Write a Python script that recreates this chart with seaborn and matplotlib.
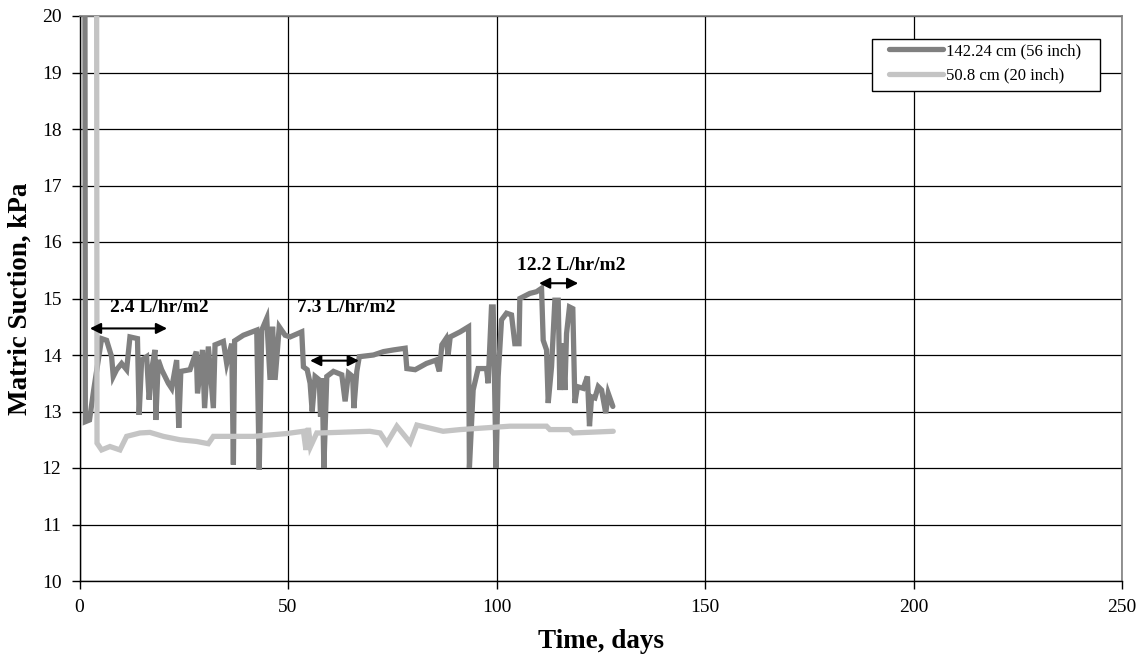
import matplotlib
matplotlib.use("Agg")
import matplotlib.pyplot as plt
from matplotlib.patches import Rectangle
import seaborn as sns
import pandas as pd
import numpy as np

# ---- data ----
series_labels = ["142.24 cm (56 inch)", "50.8 cm (20 inch)"]

deep_days = [1.3, 1.4, 2.4, 3.4, 5.3, 6.5, 7.7, 8.1, 8.9, 10.1, 11.3, 12.1, 13.9, 14.3, 14.9,
             16.1, 16.7, 17.3, 18.1, 18.3, 18.9, 19.7, 21.3, 22.1, 23.3, 23.8, 24.3, 26.5,
             28.0, 28.3, 29.5, 30.0, 30.9, 32.1, 32.5, 34.5, 35.3, 36.5, 36.9, 37.2, 39.3,
             42.5, 43.1, 43.7, 44.9, 45.7, 46.3, 46.9, 47.9, 49.3, 50.5, 53.3, 53.7, 54.6,
             55.3, 55.8, 56.5, 57.5, 57.8, 58.2, 58.6, 59.3, 60.9, 62.9, 63.7, 64.5, 65.5,
             65.8, 66.5, 67.1, 70.5, 72.9, 75.3, 78.1, 78.5, 80.5, 83.2, 85.5, 86.3, 86.9,
             87.9, 88.4, 88.9, 91.3, 93.3, 93.5, 94.4, 95.6, 97.6, 98.0, 98.8, 99.2, 99.9,
             100.4, 101.2, 102.4, 103.6, 104.4, 105.4, 105.6, 108.0, 109.6, 110.8, 111.2,
             112.0, 112.4, 113.2, 114.0, 114.8, 115.2, 115.9, 116.4, 116.8, 117.5, 118.3,
             118.8, 119.4, 120.8, 121.8, 122.3, 122.8, 123.6, 124.4, 125.2, 126.2, 126.8,
             127.9]
deep_kpa = [21.0, 12.82, 12.85, 13.38, 14.29, 14.26, 13.97, 13.62, 13.74, 13.85, 13.74, 14.32,
            14.29, 12.94, 13.91, 13.97, 13.21, 13.74, 14.09, 12.85, 13.91, 13.74, 13.50, 13.41,
            13.91, 12.71, 13.71, 13.74, 14.06, 13.32, 14.09, 13.06, 14.15, 13.06, 14.18, 14.24,
            13.85, 14.20, 12.06, 14.25, 14.35, 14.44, 11.97, 14.44, 14.65, 13.56, 14.50, 13.56,
            14.50, 14.35, 14.32, 14.41, 13.79, 13.74, 13.50, 13.00, 13.62, 13.56, 12.91, 13.59,
            12.00, 13.62, 13.71, 13.65, 13.18, 13.68, 13.62, 13.06, 13.71, 13.97, 14.00, 14.06,
            14.09, 14.12, 13.76, 13.74, 13.85, 13.91, 13.71, 14.18, 14.29, 14.00, 14.32, 14.41,
            14.50, 12.00, 13.38, 13.76, 13.76, 13.50, 14.85, 14.85, 12.00, 13.62, 14.62, 14.74,
            14.71, 14.20, 14.20, 15.00, 15.09, 15.12, 15.18, 14.26, 14.09, 13.15, 13.79, 14.97,
            14.97, 13.38, 14.21, 13.38, 14.38, 14.85, 14.82, 13.15, 13.44, 13.41, 13.62, 12.74,
            13.26, 13.24, 13.44, 13.38, 12.97, 13.32, 13.09]

shallow_days = [4.1, 4.2, 5.3, 7.3, 9.7, 11.3, 14.5, 16.9, 20.1, 24.1, 28.1, 30.9, 32.1, 36.1,
                41.7, 49.7, 53.7, 54.3, 54.9, 55.4, 56.9, 57.7, 69.6, 72.1, 73.7, 76.1, 79.3,
                80.9, 87.2, 91.3, 103.2, 112.0, 112.8, 117.6, 118.4, 128.0]
shallow_kpa = [21.0, 12.44, 12.32, 12.38, 12.32, 12.56, 12.62, 12.63, 12.56, 12.50, 12.47, 12.43,
               12.56, 12.56, 12.56, 12.61, 12.65, 12.32, 12.71, 12.38, 12.62, 12.62, 12.65, 12.62,
               12.44, 12.74, 12.45, 12.76, 12.65, 12.68, 12.74, 12.74, 12.68, 12.68, 12.62, 12.65]

rate_labels = ["2.4 L/hr/m2", "7.3 L/hr/m2", "12.2 L/hr/m2"]
rate_text_x = [7.3, 52.2, 105.0]
rate_text_y = [14.84, 14.84, 15.58]
rate_arrow_start = [2.5, 55.3, 110.2]
rate_arrow_end = [21.0, 67.0, 119.6]
rate_arrow_y = [14.47, 13.90, 15.27]

x_ticks = [0, 50, 100, 150, 200, 250]
y_ticks = [10, 11, 12, 13, 14, 15, 16, 17, 18, 19, 20]

# ---- build table ----
df = pd.concat([
    pd.DataFrame({"Time": deep_days, "Suction": deep_kpa, "Depth": series_labels[0]}),
    pd.DataFrame({"Time": shallow_days, "Suction": shallow_kpa, "Depth": series_labels[1]}),
], ignore_index=True)

sns.set_theme(style="white")
plt.rcParams["font.family"] = ["Liberation Serif", "DejaVu Serif"]
for key in ["text.color", "axes.labelcolor", "xtick.color", "ytick.color"]:
    plt.rcParams[key] = "black"

W, H = 1146, 659
fig = plt.figure(figsize=(W / 100, H / 100), dpi=100)
ax = fig.add_axes([79.5 / W, 1 - 581 / H, (1122 - 79.5) / W, (581 - 16) / H])

palette = {series_labels[0]: "#808080", series_labels[1]: "#c4c4c4"}
sns.lineplot(data=df, x="Time", y="Suction", hue="Depth", palette=palette,
             sort=False, estimator=None, linewidth=3.8, ax=ax, legend=False, zorder=3)
for ln in ax.lines:
    ln.set_solid_joinstyle("miter")

ax.set_xlim(0, 250)
ax.set_ylim(10, 20)
ax.set_xticks(x_ticks)
ax.set_yticks(y_ticks)
ax.grid(True, color="black", linewidth=0.9)
ax.set_axisbelow(True)

for side in ["left", "bottom"]:
    ax.spines[side].set_color("black")
    ax.spines[side].set_linewidth(1.0)
for side in ["top", "right"]:
    ax.spines[side].set_color("#808080")
    ax.spines[side].set_linewidth(1.2)

ax.tick_params(axis="both", which="major", direction="out", length=6, width=1,
               color="black", labelcolor="black", labelsize=14, pad=7, left=True, bottom=True)

ax.set_xlabel("Time, days", fontsize=19.5, fontweight="bold", color="black")
ax.set_ylabel("Matric Suction, kPa", fontsize=19.5, fontweight="bold", color="black")
ax.xaxis.set_label_coords(0.5, (581 - 642) / 565)
ax.xaxis.label.set_va("center")
ax.yaxis.set_label_coords((20 - 79.5) / 1042.5, 0.5)
ax.yaxis.label.set_va("center")

# rate annotations
for lab, tx, ty, xa, xb, ay in zip(rate_labels, rate_text_x, rate_text_y,
                                  rate_arrow_start, rate_arrow_end, rate_arrow_y):
    ax.text(tx, ty, lab, fontsize=14, fontweight="bold", ha="left", va="center",
            color="black", zorder=5)
    ax.annotate("", xy=(xa, ay), xytext=(xb, ay),
                arrowprops=dict(arrowstyle="<|-|>", color="black", lw=1.5,
                                mutation_scale=16, shrinkA=0, shrinkB=0), zorder=5)

# legend box (frame drawn separately to match the wide side padding)
frame = Rectangle((872 / W, 1 - 91 / H), 228 / W, 52 / H, transform=fig.transFigure,
                  facecolor="white", edgecolor="black", linewidth=1.0, zorder=6,
                  clip_on=False)
ax.add_patch(frame)

leg = ax.legend(handles=ax.lines[:2], labels=series_labels, loc="upper left",
                bbox_to_anchor=(889 / W, 1 - 43 / H), bbox_transform=fig.transFigure,
                borderaxespad=0, borderpad=0, fontsize=12, frameon=False,
                handlelength=3.24, handletextpad=0.18, labelspacing=0.5)
leg.set_zorder(7)
for t in leg.get_texts():
    t.set_color("black")

fig.savefig("out.png", dpi=100, facecolor="white")
